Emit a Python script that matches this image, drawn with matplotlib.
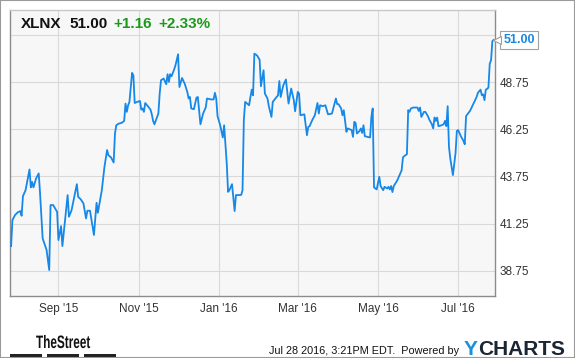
import matplotlib
matplotlib.use("Agg")
import matplotlib.pyplot as plt
import matplotlib.dates as mdates
from matplotlib.patches import Rectangle, PathPatch
from matplotlib.transforms import offset_copy, Affine2D, IdentityTransform
from matplotlib.textpath import TextPath
from matplotlib.font_manager import FontProperties
import pandas as pd

plt.rcParams["font.family"] = ["Liberation Sans", "DejaVu Sans"]

# XLNX closing prices
dates = [
    "2015-07-27", "2015-07-28", "2015-07-30", "2015-08-01", "2015-08-03", "2015-08-04",
    "2015-08-05", "2015-08-07", "2015-08-10", "2015-08-11", "2015-08-12", "2015-08-13",
    "2015-08-15", "2015-08-17", "2015-08-18", "2015-08-20", "2015-08-23", "2015-08-25",
    "2015-08-26", "2015-08-28", "2015-08-31", "2015-09-01", "2015-09-03", "2015-09-04",
    "2015-09-08", "2015-09-09", "2015-09-11", "2015-09-15", "2015-09-16", "2015-09-18",
    "2015-09-20", "2015-09-22", "2015-09-23", "2015-09-25", "2015-09-28", "2015-09-30",
    "2015-10-01", "2015-10-04", "2015-10-06", "2015-10-08", "2015-10-09", "2015-10-11",
    "2015-10-13", "2015-10-14", "2015-10-15", "2015-10-17", "2015-10-19", "2015-10-21",
    "2015-10-22", "2015-10-23", "2015-10-24", "2015-10-25", "2015-10-27", "2015-10-28",
    "2015-10-29", "2015-10-31", "2015-11-02", "2015-11-03", "2015-11-04", "2015-11-05",
    "2015-11-06", "2015-11-08", "2015-11-10", "2015-11-11", "2015-11-12", "2015-11-13",
    "2015-11-16", "2015-11-17", "2015-11-18", "2015-11-20", "2015-11-22", "2015-11-23",
    "2015-11-24", "2015-11-25", "2015-11-26", "2015-11-28", "2015-11-29", "2015-12-01",
    "2015-12-02", "2015-12-04", "2015-12-06", "2015-12-08", "2015-12-09", "2015-12-10",
    "2015-12-11", "2015-12-13", "2015-12-15", "2015-12-16", "2015-12-18", "2015-12-20",
    "2015-12-22", "2015-12-23", "2015-12-26", "2015-12-28", "2015-12-29", "2015-12-30",
    "2015-12-31", "2016-01-02", "2016-01-04", "2016-01-05", "2016-01-07", "2016-01-08",
    "2016-01-09", "2016-01-11", "2016-01-13", "2016-01-14", "2016-01-16", "2016-01-18",
    "2016-01-19", "2016-01-20", "2016-01-21", "2016-01-23", "2016-01-24", "2016-01-25",
    "2016-01-26", "2016-01-27", "2016-01-28", "2016-01-30", "2016-02-01", "2016-02-02",
    "2016-02-04", "2016-02-05", "2016-02-07", "2016-02-08", "2016-02-10", "2016-02-11",
    "2016-02-13", "2016-02-15", "2016-02-16", "2016-02-17", "2016-02-19", "2016-02-21",
    "2016-02-23", "2016-02-25", "2016-02-27", "2016-02-28", "2016-03-01", "2016-03-02",
    "2016-03-03", "2016-03-06", "2016-03-08", "2016-03-09", "2016-03-10", "2016-03-12",
    "2016-03-14", "2016-03-16", "2016-03-17", "2016-03-18", "2016-03-20", "2016-03-22",
    "2016-03-24", "2016-03-27", "2016-03-30", "2016-03-31", "2016-04-01", "2016-04-03",
    "2016-04-04", "2016-04-05", "2016-04-07", "2016-04-08", "2016-04-10", "2016-04-11",
    "2016-04-12", "2016-04-13", "2016-04-14", "2016-04-15", "2016-04-17", "2016-04-18",
    "2016-04-19", "2016-04-20", "2016-04-21", "2016-04-23", "2016-04-25", "2016-04-26",
    "2016-04-27", "2016-04-28", "2016-04-30", "2016-05-02", "2016-05-03", "2016-05-05",
    "2016-05-06", "2016-05-08", "2016-05-09", "2016-05-10", "2016-05-11", "2016-05-12",
    "2016-05-13", "2016-05-15", "2016-05-16", "2016-05-18", "2016-05-19", "2016-05-20",
    "2016-05-21", "2016-05-23", "2016-05-24", "2016-05-25", "2016-05-26", "2016-05-28",
    "2016-05-31", "2016-06-01", "2016-06-02", "2016-06-03", "2016-06-05", "2016-06-06",
    "2016-06-08", "2016-06-09", "2016-06-11", "2016-06-12", "2016-06-13", "2016-06-14",
    "2016-06-15", "2016-06-16", "2016-06-18", "2016-06-20", "2016-06-21", "2016-06-22",
    "2016-06-23", "2016-06-24", "2016-06-25", "2016-06-27", "2016-06-29", "2016-06-30",
    "2016-07-01", "2016-07-03", "2016-07-05", "2016-07-06", "2016-07-07", "2016-07-08",
    "2016-07-10", "2016-07-12", "2016-07-14", "2016-07-15", "2016-07-16", "2016-07-18",
    "2016-07-19", "2016-07-20", "2016-07-21", "2016-07-22", "2016-07-23", "2016-07-24",
    "2016-07-25", "2016-07-26", "2016-07-27", "2016-07-28",
]
prices = [
    40.05, 41.43, 41.70, 41.84, 41.91, 41.66, 42.70, 43.02, 44.12, 43.17, 43.46, 43.17,
    43.64, 43.91, 42.88, 40.46, 39.84, 38.78, 42.23, 42.23, 41.87, 40.37, 41.11, 40.05,
    42.76, 41.61, 41.96, 43.34, 42.67, 42.53, 42.32, 41.52, 41.93, 41.93, 40.64, 42.35,
    41.82, 43.02, 44.26, 45.15, 44.88, 44.76, 44.49, 46.03, 46.47, 46.56, 46.59, 46.70,
    47.62, 47.18, 47.53, 47.71, 49.25, 49.12, 47.65, 47.71, 47.76, 47.30, 47.36, 47.18,
    47.65, 47.48, 47.30, 47.05, 46.70, 46.52, 47.09, 48.15, 48.86, 48.95, 48.65, 49.18,
    48.77, 49.18, 49.07, 49.43, 49.65, 50.24, 48.50, 48.98, 48.68, 48.24, 47.89, 47.97,
    47.36, 47.32, 47.94, 47.97, 46.52, 47.09, 47.41, 47.89, 47.84, 47.84, 48.19, 47.89,
    46.95, 46.47, 45.82, 46.47, 44.44, 42.93, 43.02, 43.34, 41.91, 42.76, 42.76, 42.77,
    43.02, 46.74, 47.71, 47.59, 47.53, 47.97, 48.36, 48.06, 50.27, 50.18, 49.95, 48.54,
    49.39, 48.15, 47.89, 47.48, 46.91, 47.71, 47.89, 48.06, 48.82, 47.97, 48.59, 48.90,
    47.62, 48.42, 47.80, 47.21, 48.24, 48.15, 47.00, 47.05, 45.94, 46.38, 46.42, 46.74,
    47.00, 47.65, 47.09, 47.53, 47.48, 47.53, 47.05, 47.09, 47.89, 47.59, 47.59, 47.36,
    47.00, 47.27, 46.12, 46.30, 46.24, 46.21, 45.85, 46.65, 46.59, 46.03, 46.17, 46.30,
    46.06, 46.47, 45.89, 45.85, 45.82, 46.91, 47.36, 43.17, 43.06, 43.73, 43.24, 43.02,
    43.20, 43.11, 43.20, 43.06, 43.24, 42.92, 43.24, 43.46, 43.59, 43.91, 44.08, 44.76,
    44.83, 44.93, 47.27, 47.18, 47.36, 47.41, 47.41, 47.23, 47.41, 46.91, 47.18, 47.18,
    46.95, 46.77, 46.52, 46.30, 46.88, 46.70, 46.88, 46.42, 46.46, 46.52, 46.70, 46.42,
    47.48, 45.32, 44.70, 43.82, 45.00, 46.17, 46.21, 45.89, 45.64, 45.46, 46.95, 47.05,
    47.23, 47.53, 47.84, 47.97, 48.19, 48.36, 48.06, 48.11, 47.80, 48.36, 48.40, 48.47,
    49.74, 49.92, 50.94, 51.00,
]

ticker = "XLNX"
change = "+1.16"
change_pct = "+2.33%"
y_ticks = [38.75, 41.25, 43.75, 46.25, 48.75, 51.25]
x_ticks = ["2015-09-01", "2015-11-01", "2016-01-01", "2016-03-01", "2016-05-01", "2016-07-01"]
stamp = "Jul 28 2016, 3:21PM EDT.  Powered by"

W, H = 575, 358


def fx(x):
    return x / W


def fy(y):
    return 1 - y / H


fig = plt.figure(figsize=(W / 100, H / 100), dpi=100)
fig.patch.set_facecolor("white")

ax = fig.add_axes([fx(10), fy(296), fx(485), 286 / H])
ax.set_facecolor("#f7f7f7")

d = pd.to_datetime(dates)
ax.plot(d, prices, color="#1688e8", lw=1.3, solid_joinstyle="round", zorder=3)

ax.set_ylim(37.40, 52.59)
ax.set_xlim(pd.Timestamp("2015-07-26 04:00"), pd.Timestamp("2016-07-29 00:00"))

# top label sits under the price callout, so only its grid line shows
ax.set_yticks(y_ticks)
ax.set_yticklabels([f"{v:.2f}" if v < 50 else "" for v in y_ticks])
ax.yaxis.tick_right()
ax.set_xticks(pd.to_datetime(x_ticks))
ax.xaxis.set_major_formatter(mdates.DateFormatter("%b '%y"))
ax.tick_params(axis="both", length=0, labelsize=8.5, labelcolor="#333333")
ax.tick_params(axis="y", pad=3.5)
ax.tick_params(axis="x", pad=5)
ax.grid(True, color="#d9d9d9", lw=0.8)
ax.set_axisbelow(True)

for side in ["left", "bottom", "right"]:
    ax.spines[side].set_color("#8c8c8c")
    ax.spines[side].set_linewidth(1.0)
ax.spines["top"].set_color("#c8c8c8")
ax.spines["top"].set_linewidth(1.0)

# header
fig.text(fx(21), fy(28.3), ticker, fontsize=11, fontweight="bold", color="#111111", va="baseline")
fig.text(fx(69), fy(28.3), f"{prices[-1]:.2f}", fontsize=11, fontweight="bold", color="#111111", va="baseline")
fig.text(fx(113), fy(28.3), change, fontsize=11, fontweight="bold", color="#1a9a1a", va="baseline")
fig.text(fx(158), fy(28.3), change_pct, fontsize=11, fontweight="bold", color="#1a9a1a", va="baseline")

# last price callout
ax.annotate(f"{prices[-1]:.2f}", xy=(d[-1], prices[-1]), xytext=(7, 0), textcoords="offset points",
            ha="left", va="center", fontsize=9, fontweight="bold", color="#1a88e0",
            bbox=dict(boxstyle="square,pad=0.25", fc="white", ec="#a0a0a0", lw=0.8),
            annotation_clip=False, zorder=5)
arrow_tr = offset_copy(ax.transData, fig=fig, x=3.2, y=0, units="dots")
ax.plot([d[-1]], [prices[-1]], marker="<", ms=5.5, mfc="white", mec="#a0a0a0", mew=0.8,
        transform=arrow_tr, clip_on=False, zorder=6)

# footer: condensed "TheStreet" logo text
logo = TextPath((0, 0), "TheStreet", size=18, prop=FontProperties(family="Liberation Sans", weight="bold"))
logo_w = logo.get_extents().width
logo_tr = Affine2D().scale(54 / logo_w, 1.0).translate(36, H - 348) + IdentityTransform()
fig.patches.append(PathPatch(logo, transform=logo_tr, fc="#111111", ec="none"))
for x0, x1 in [(10, 42), (47, 79), (84, 116)]:
    fig.patches.append(Rectangle((fx(x0), fy(357.7)), fx(x1 - x0), 3.3 / H,
                                 transform=fig.transFigure, fc="#222222", ec="none"))
fig.text(fx(459), fy(351.5), stamp, fontsize=7.8, color="#111111", ha="right", va="center")
fig.text(fx(464), fy(355), "Y", fontsize=15, fontweight="bold", color="#1a8fe0", va="baseline")
fig.text(fx(478), fy(355), "CHARTS", fontsize=15, fontweight="bold", color="#1b2633", va="baseline")

# outer frame
fig.patches.append(Rectangle((0, 0), 1, 1, transform=fig.transFigure, fill=False,
                             ec="#9a9a9a", lw=1.5))

fig.savefig("out.png", dpi=100)
